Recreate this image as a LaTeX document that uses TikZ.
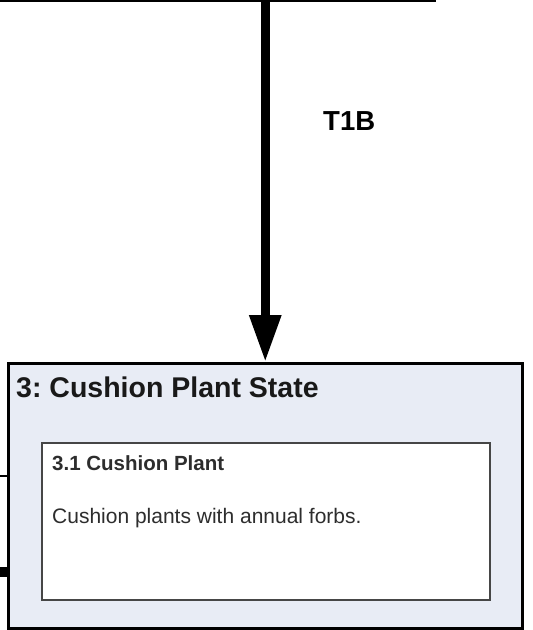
\documentclass[tikz,border=0pt]{standalone}
\usepackage{fontspec}
\setmainfont{Liberation Sans}
\usetikzlibrary{arrows.meta,positioning,calc}
\definecolor{statefill}{RGB}{232,236,245}
\definecolor{commline}{RGB}{70,70,70}
\definecolor{commtext}{RGB}{45,45,45}
\frenchspacing

\begin{document}
\begin{tikzpicture}[x=1pt,y=-1pt,
    statebox/.style={rectangle, draw=black, line width=2.5pt, fill=statefill, inner sep=0pt},
    commbox/.style={rectangle, draw=commline, line width=2pt, fill=white, inner sep=0pt},
    label/.style={inner sep=0pt, anchor=base west},
    transline/.style={line width=9pt, -{Triangle[width=30pt,length=47pt]}}]
        \useasboundingbox (0,0) rectangle (533,630);
        \clip (0,0) rectangle (533,630);
        % states
        \node[statebox, fill=white, anchor=south east, minimum width=600pt, minimum height=200pt] (state2) at (436,2) {};
        \node[statebox, anchor=north west, minimum width=514pt, minimum height=265pt] (state3) at (7,362) {};
        \node[label, text=black!90, font=\fontsize{28.5}{34}\selectfont\bfseries] (title3) at (16,397) {3: Cushion Plant State};
        % community
        \node[commbox, anchor=north west, minimum width=448pt, minimum height=157pt] (comm31) at (41,442) {};
        \node[label, text=commtext, font=\fontsize{20.5}{24}\selectfont\bfseries] (name31) at (52,470) {3.1 Cushion Plant};
        \node[label, text=commtext, font=\fontsize{21}{25}\selectfont] (desc31) at (52,523) {Cushion plants with annual forbs.};
        % transitions
        \draw[transline] (state3.north |- state2.south) -- (state3.north);
        \node[label, font=\fontsize{27.5}{33}\selectfont\bfseries] (t1b) at (323,130) {T1B};
        \coordinate (in1) at (-5,476);
        \coordinate (in2) at (-5,572);
        \coordinate (out1) at (265,640);
        \draw[line width=1.5pt] (in1) -- (in1 -| state3.west);
        \draw[line width=10pt] (in2) -- (in2 -| state3.west);
        \draw[line width=9pt] (state3.south) -- (out1);
\end{tikzpicture}
\end{document}
